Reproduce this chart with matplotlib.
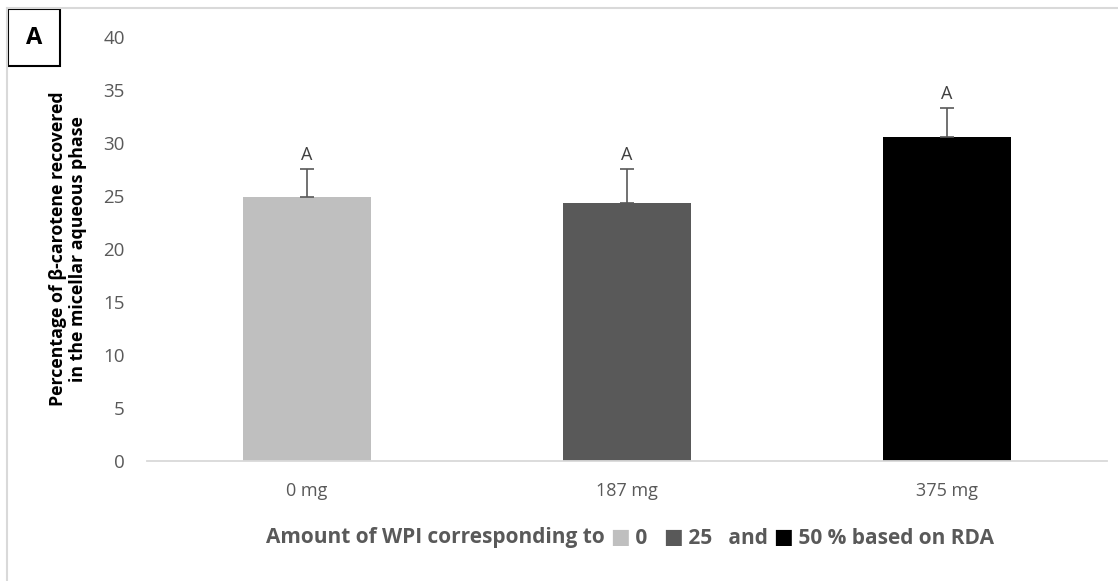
import matplotlib
matplotlib.use("Agg")
import matplotlib.pyplot as plt
from matplotlib.lines import Line2D
from matplotlib.patches import Rectangle
from matplotlib.offsetbox import TextArea, HPacker, AnnotationBbox

categories = ["0 mg", "187 mg", "375 mg"]
values = [24.9, 24.3, 30.6]
errors = [2.65, 3.25, 2.7]
letters = ["A", "A", "A"]
colors = ["#bfbfbf", "#595959", "#000000"]
y_ticks = [0, 5, 10, 15, 20, 25, 30, 35, 40]

FONT = ["Open Sans", "DejaVu Sans"]
plt.rcParams["font.family"] = FONT

W, H = 1118, 581
X0, X1, Y0, Y1 = 147, 1107, 461, 37
fig = plt.figure(figsize=(W / 100, H / 100), dpi=100)
ax = fig.add_axes([X0 / W, 1 - Y0 / H, (X1 - X0) / W, (Y0 - Y1) / H])

x = list(range(len(categories)))
ax.bar(x, values, width=0.4, color=colors, zorder=2)
ax.errorbar(x, values, yerr=[[0] * len(values), errors], fmt="none",
            ecolor="#595959", elinewidth=1.2, capsize=5, capthick=1.2, zorder=3)
for xi, v, e, l in zip(x, values, errors, letters):
    ax.annotate(l, (xi, v + e), xytext=(0, 3.5), textcoords="offset points",
                ha="center", va="bottom", fontsize=13, color="#404040")

ax.set_xlim(-0.5, 2.5)
ax.set_ylim(0, 40)
ax.set_yticks(y_ticks)
ax.set_yticklabels([str(t) for t in y_ticks])
ax.set_xticks(x)
ax.set_xticklabels(categories)
ax.tick_params(axis="both", length=0, labelsize=13, labelcolor="#595959")
ax.tick_params(axis="y", labelsize=13.5, pad=16)
ax.tick_params(axis="x", pad=15)
for s in ["top", "right", "left"]:
    ax.spines[s].set_visible(False)
ax.spines["bottom"].set_color("#d9d9d9")
ax.spines["bottom"].set_linewidth(1.3)

ax.set_ylabel("Percentage of β-carotene recovered\nin the micellar aqueous phase",
              fontsize=12.8, fontweight="bold", color="black", linespacing=1.15)
ax.yaxis.set_label_coords((87 - X0) / (X1 - X0), 0.5)

# x-axis title with coloured squares
parts = [("Amount of WPI corresponding to ", "#595959"), ("■", colors[0]),
         (" 0   ", "#595959"), ("■", colors[1]), (" 25   and ", "#595959"),
         ("■", colors[2]), (" 50 % based on RDA", "#595959")]
areas = [TextArea(t, textprops=dict(color=c, fontsize=15, fontweight="bold",
                                    family=FONT)) for t, c in parts]
box = HPacker(children=areas, align="baseline", pad=0, sep=0)
ab = AnnotationBbox(box, (630 / W, 1 - 538 / H), xycoords="figure fraction",
                    frameon=False, box_alignment=(0.5, 0.5))
fig.add_artist(ab)

# chart area border (top and left visible)
fig.add_artist(Line2D([7 / W, 1.0], [1 - 8 / H, 1 - 8 / H], color="#d9d9d9", lw=1.5))
fig.add_artist(Line2D([7 / W, 7 / W], [1 - 8 / H, 0.0], color="#d9d9d9", lw=1.5))

# panel label box
fig.add_artist(Rectangle((8 / W, 1 - 66 / H), (60 - 8) / W, (66 - 9) / H,
                         transform=fig.transFigure, fill=False, ec="black", lw=1.5))
fig.text(34 / W, 1 - 38 / H, "A", ha="center", va="center", fontsize=17,
         fontweight="bold", color="black")

fig.savefig("out.png", dpi=100)
